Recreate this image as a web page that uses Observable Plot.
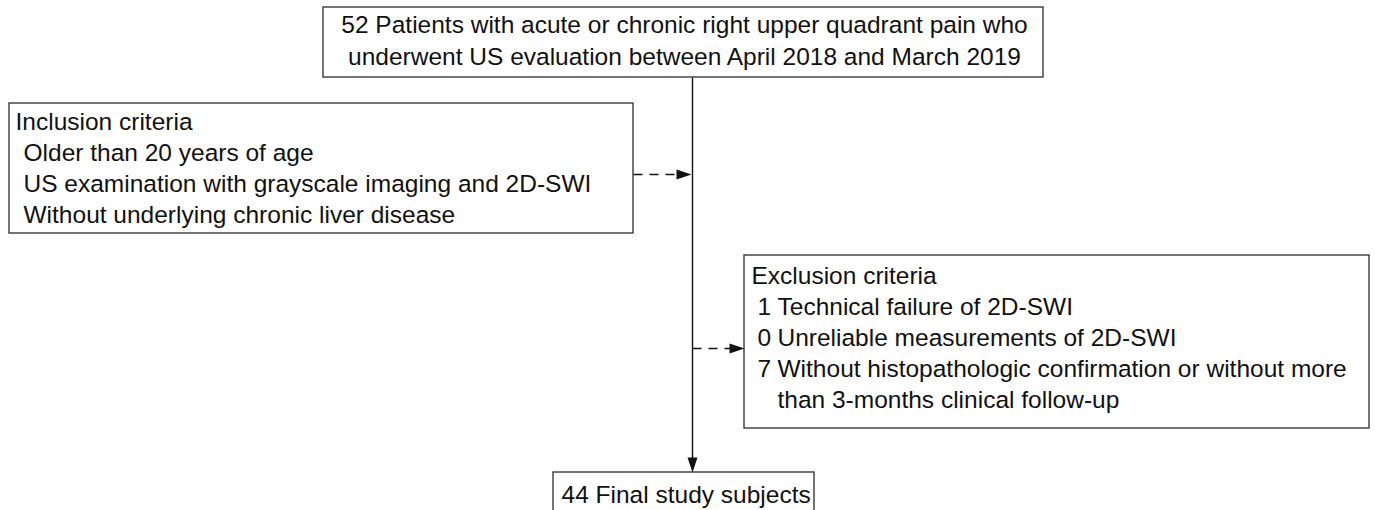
<!DOCTYPE html>
<html><head><meta charset="utf-8">
<script src="https://cdn.jsdelivr.net/npm/d3@7"></script>
<script src="https://cdn.jsdelivr.net/npm/@observablehq/plot@0.6"></script>
<style>html,body{margin:0;padding:0;background:#fff}</style>
</head><body><div id="chart"></div>
<script>
// ---- Content ----
const screeningLines = [
  "52 Patients with acute or chronic right upper quadrant pain who",
  "underwent US evaluation between April 2018 and March 2019"
];
const inclusionTitle = "Inclusion criteria";
const inclusionItems = [
  "Older than 20 years of age",
  "US examination with grayscale imaging and 2D-SWI",
  "Without underlying chronic liver disease"
];
const exclusionTitle = "Exclusion criteria";
const exclusionCounts = [1, 0, 7];
const exclusionReasons = [
  "Technical failure of 2D-SWI",
  "Unreliable measurements of 2D-SWI",
  "Without histopathologic confirmation or without more\nthan 3-months clinical follow-up"
];
const finalCount = 44;
const finalLabel = "Final study subjects";

// ---- Layout (pixel positions of the diagram) ----
const W = 1375, H = 510;
const layout = {
  top:   {x1: 323, x2: 1043, y1: 7,   y2: 77,  cx: 684, row0: 25, dy: 32},
  incl:  {x1: 9,   x2: 633,  y1: 103, y2: 233, tx: 15, ix: 23, row0: 122, dy: 31},
  excl:  {x1: 744, x2: 1369, y1: 255, y2: 428, tx: 751, cx: 757, rx: 777, row0: 276, dy: 31},
  final: {x1: 553, x2: 814,  y1: 472, y2: 520, tx: 561, ty: 495},
  spineX: 692, inclArrowY: 174, exclArrowY: 348
};

const boxes = [layout.top, layout.incl, layout.excl, layout.final];

// texts
const centered = screeningLines.map((t, i) => ({text: t, x: layout.top.cx, y: layout.top.row0 + i * layout.top.dy}));
const left = [];
left.push({text: inclusionTitle, x: layout.incl.tx, y: layout.incl.row0});
inclusionItems.forEach((t, i) => left.push({text: t, x: layout.incl.ix, y: layout.incl.row0 + (i + 1) * layout.incl.dy}));
left.push({text: exclusionTitle, x: layout.excl.tx, y: layout.excl.row0});
let r = 1;
exclusionCounts.forEach((c, i) => {
  left.push({text: String(c), x: layout.excl.cx, y: layout.excl.row0 + r * layout.excl.dy});
  exclusionReasons[i].split("\n").forEach(line => {
    left.push({text: line, x: layout.excl.rx, y: layout.excl.row0 + r * layout.excl.dy});
    r++;
  });
});
left.push({text: `${finalCount} ${finalLabel}`, x: layout.final.tx, y: layout.final.ty});

// connectors
const solid = [{x1: layout.spineX, y1: layout.top.y2, x2: layout.spineX, y2: layout.final.y1 - 8}];
const dashed = [
  {x1: layout.incl.x2, y1: layout.inclArrowY, x2: layout.spineX - 8, y2: layout.inclArrowY},
  {x1: layout.spineX, y1: layout.exclArrowY, x2: layout.excl.x1 - 8, y2: layout.exclArrowY}
];
const heads = [
  {x: layout.spineX - 1, y: layout.inclArrowY, rot: 0},
  {x: layout.excl.x1, y: layout.exclArrowY, rot: 0},
  {x: layout.spineX, y: layout.final.y1, rot: 90}
];
const arrowHead = {
  draw(ctx) { ctx.moveTo(0, 0); ctx.lineTo(-15, -5); ctx.lineTo(-15, 5); ctx.closePath(); }
};

const font = "'Liberation Sans', Arial, Helvetica, sans-serif";
const chart = Plot.plot({
  width: W, height: H, margin: 0,
  x: {domain: [0, W], range: [0, W], axis: null},
  y: {domain: [0, H], range: [0, H], axis: null},
  style: {fontFamily: font, background: "#fff"},
  marks: [
    Plot.rect(boxes, {x1: "x1", x2: "x2", y1: "y1", y2: "y2", fill: "white", stroke: "#3a3a3a", strokeWidth: 1.4}),
    Plot.link(solid, {x1: "x1", y1: "y1", x2: "x2", y2: "y2", stroke: "#111", strokeWidth: 1.4}),
    Plot.link(dashed, {x1: "x1", y1: "y1", x2: "x2", y2: "y2", stroke: "#111", strokeWidth: 1.4, strokeDasharray: "9,7"}),
    Plot.dot(heads, {x: "x", y: "y", symbol: arrowHead, rotate: "rot", fill: "#111", stroke: "none"}),
    Plot.text(centered, {x: "x", y: "y", text: "text", textAnchor: "middle", lineAnchor: "middle", fontSize: 24.5, fill: "#111"}),
    Plot.text(left, {x: "x", y: "y", text: "text", textAnchor: "start", lineAnchor: "middle", fontSize: 24.5, fill: "#111"})
  ]
});
document.getElementById("chart").appendChild(chart);
</script>
</body></html>
